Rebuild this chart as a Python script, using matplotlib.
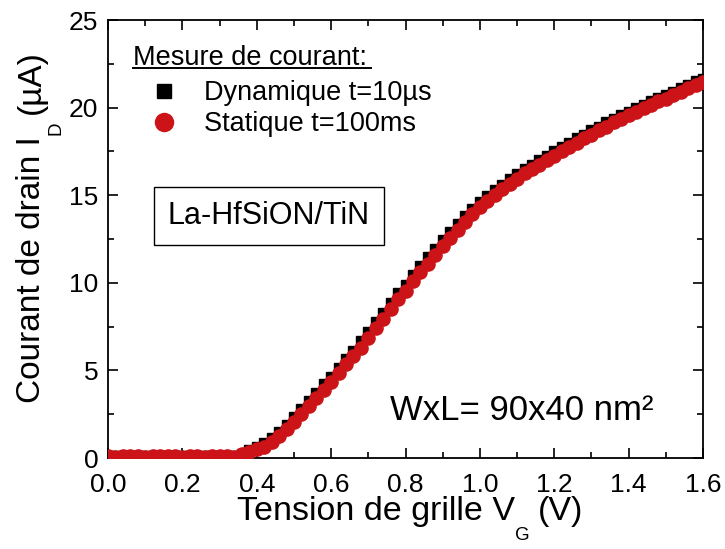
import matplotlib
matplotlib.use('Agg')
import matplotlib.pyplot as plt
from matplotlib.lines import Line2D

plt.rcParams['font.family'] = ['Liberation Sans', 'DejaVu Sans']

# gate voltage (V), 0.02 V steps
vg = [i / 50 for i in range(81)]

# static measurement t=100ms, drain current (uA)
i_static = [
    0.10, 0.08, 0.10, 0.12, 0.10, 0.08, 0.10, 0.10, 0.12, 0.10,
    0.08, 0.10, 0.10, 0.08, 0.10, 0.12, 0.10, 0.08, 0.20, 0.35,
    0.50, 0.65, 0.90, 1.25, 1.65, 2.05, 2.50, 2.95, 3.40, 3.90,
    4.35, 4.85, 5.35, 5.80, 6.30, 6.85, 7.40, 7.95, 8.50, 9.05,
    9.55, 10.10, 10.60, 11.10, 11.60, 12.10, 12.55, 13.00, 13.45, 13.90,
    14.30, 14.65, 15.00, 15.35, 15.65, 15.95, 16.25, 16.50, 16.75, 17.00,
    17.25, 17.50, 17.75, 18.00, 18.25, 18.45, 18.70, 18.90, 19.15, 19.35,
    19.55, 19.75, 19.95, 20.15, 20.35, 20.50, 20.70, 20.90, 21.10, 21.30,
    21.45,
]

# dynamic measurement t=10us, drain current (uA)
i_dyn = [
    0.10, 0.10, 0.10, 0.10, 0.10, 0.10, 0.10, 0.10, 0.10, 0.10,
    0.10, 0.10, 0.10, 0.10, 0.10, 0.10, 0.10, 0.12, 0.25, 0.45,
    0.65, 0.85, 1.15, 1.50, 1.90, 2.35, 2.80, 3.25, 3.70, 4.20,
    4.65, 5.15, 5.65, 6.10, 6.65, 7.20, 7.75, 8.30, 8.85, 9.40,
    9.90, 10.45, 10.95, 11.45, 11.95, 12.45, 12.90, 13.35, 13.80, 14.20,
    14.60, 14.95, 15.30, 15.60, 15.90, 16.20, 16.50, 16.75, 17.00, 17.25,
    17.50, 17.75, 18.00, 18.25, 18.45, 18.70, 18.90, 19.15, 19.35, 19.55,
    19.75, 19.95, 20.15, 20.35, 20.55, 20.70, 20.90, 21.10, 21.30, 21.50,
    21.65,
]

xticks = [0.0, 0.2, 0.4, 0.6, 0.8, 1.0, 1.2, 1.4, 1.6]
xticklabels = ["0.0", "0.2", "0.4", "0.6", "0.8", "1.0", "1.2", "1.4", "1.6"]
yticks = [0, 5, 10, 15, 20, 25]

RED = "#cc1418"
W, H = 725, 549

fig = plt.figure(figsize=(7.25, 5.49), dpi=100)
ax = fig.add_axes([108 / W, 1 - 458 / H, 595 / W, 438 / H])

ax.plot(vg, i_dyn, linestyle="none", marker="s", markersize=7.5,
        color="black", zorder=2)
ax.plot(vg, i_static, linestyle="none", marker="o", markersize=9.5,
        color=RED, zorder=3)

ax.set_xlim(0, 1.6)
ax.set_ylim(0, 25)
ax.set_xticks(xticks)
ax.set_xticklabels(xticklabels)
ax.set_xticks([0.1, 0.3, 0.5, 0.7, 0.9, 1.1, 1.3, 1.5], minor=True)
ax.set_yticks(yticks)
ax.set_yticks([2.5, 7.5, 12.5, 17.5, 22.5], minor=True)
ax.tick_params(which="both", direction="in", top=True, right=True,
               labelsize=19, width=1.2)
ax.tick_params(which="major", length=7)
ax.tick_params(which="minor", length=4)
ax.tick_params(axis="x", pad=11)
ax.tick_params(axis="y", pad=7)
for s in ax.spines.values():
    s.set_linewidth(1.3)

# axis labels built in pieces so the subscripts sit low like the original
xl = fig.text(237 / W, 1 - 520 / H, "Tension de grille V", fontsize=24.5,
              ha="left", va="baseline")
xs = ax.annotate("G", xy=(1, 0), xycoords=xl, xytext=(0, 0),
                 textcoords="offset points", fontsize=13.5, ha="left", va="top",
                 annotation_clip=False)
ax.annotate("(V)", xy=(1, 0), xycoords=(xs, xl), xytext=(6, 0),
            textcoords="offset points", fontsize=24.5, ha="left", va="bottom",
            annotation_clip=False)

yl = fig.text(40 / W, 1 - 403 / H, "Courant de drain I", fontsize=24,
              rotation=90, rotation_mode="anchor", ha="left", va="baseline")
ys = ax.annotate("D", xy=(1, 1), xycoords=yl, xytext=(0, 1),
                 textcoords="offset points", fontsize=13.5, rotation=90,
                 rotation_mode="anchor", ha="left", va="top",
                 annotation_clip=False)
ax.annotate("(µA)", xy=(1, 1), xycoords=(yl, ys), xytext=(0, 5),
            textcoords="offset points", fontsize=24, rotation=90,
            rotation_mode="anchor", ha="left", va="bottom",
            annotation_clip=False)

# legend with underlined title
fig.text(133 / W, 1 - 65 / H, "Mesure de courant:", fontsize=19.5,
         ha="left", va="baseline")
fig.add_artist(Line2D([133 / W, 371 / W], [1 - 68 / H, 1 - 68 / H],
                      color="black", linewidth=1.4))

handles = [
    Line2D([], [], linestyle="none", marker="s", markersize=10, color="black"),
    Line2D([], [], linestyle="none", marker="o", markersize=13, color=RED),
]
ax.legend(handles, ["Dynamique t=10µs", "Statique t=100ms"],
          loc="upper left", bbox_to_anchor=(148 / W, 1 - 80 / H),
          bbox_transform=fig.transFigure, frameon=False,
          fontsize=19.5, handlelength=1.2, handletextpad=0.85,
          borderaxespad=0.0, borderpad=0.0, labelspacing=0.2)

ax.text(269 / W, 1 - 216 / H, "La-HfSiON/TiN", transform=fig.transFigure,
        fontsize=22, ha="center", va="center",
        bbox=dict(boxstyle="square,pad=0.45", facecolor="white",
                  edgecolor="black", linewidth=1.0))
ax.text(522 / W, 1 - 410 / H, "WxL= 90x40 nm²", transform=fig.transFigure,
        fontsize=25, ha="center", va="center")

fig.savefig("out.png", dpi=100)
